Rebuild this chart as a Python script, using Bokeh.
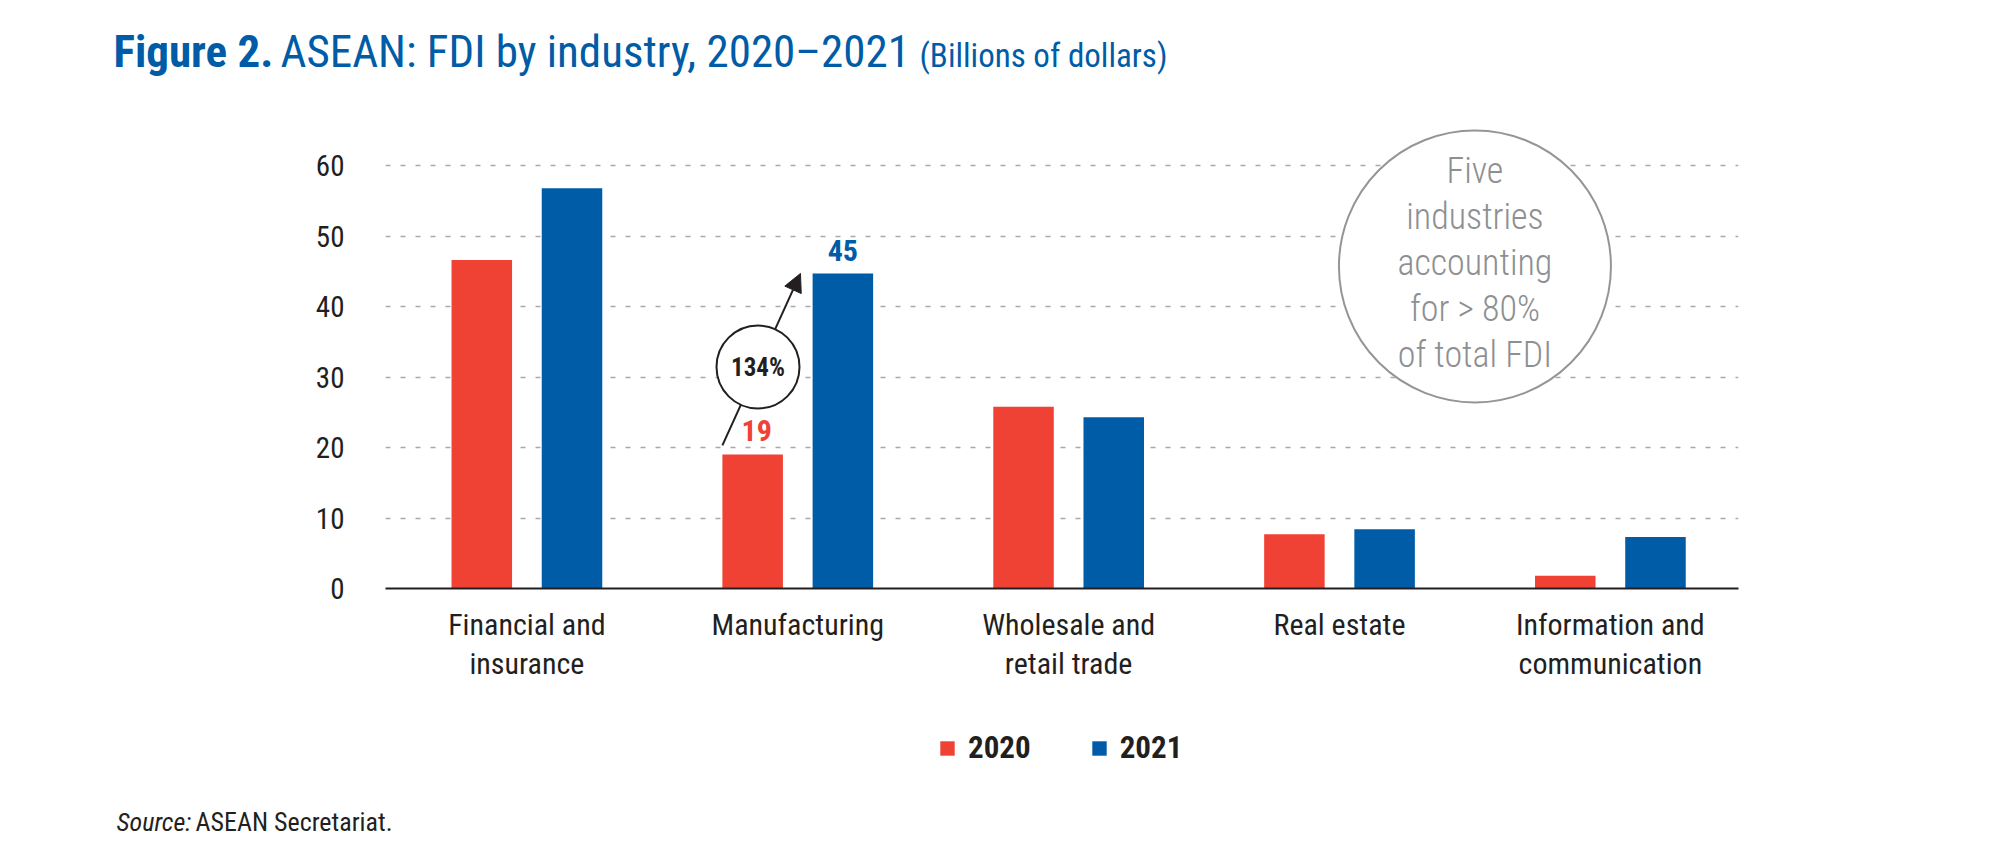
from bokeh.plotting import figure
from bokeh.layouts import column
from bokeh.models import (Range1d, FixedTicker, Arrow, NormalHead, Legend,
                          LegendItem, ColumnDataSource)
from bokeh.transform import dodge
from bokeh.core.properties import value
from bokeh.embed import file_html
from bokeh.resources import INLINE

# ---------------- data ----------------
industries = ["Financial and\ninsurance", "Manufacturing", "Wholesale and\nretail trade",
              "Real estate", "Information and\ncommunication"]
fdi_2020 = [46.6, 19.0, 25.8, 7.7, 1.8]
fdi_2021 = [56.8, 44.7, 24.3, 8.4, 7.3]
years = ["2020", "2021"]
y_ticks = [0, 10, 20, 30, 40, 50, 60]
growth_label = "134%"
note_lines = ["Five", "industries", "accounting", "for > 80%", "of total FDI"]
title_bold = "Figure 2."
title_main = "ASEAN: FDI by industry, 2020\u20132021"
title_unit = "(Billions of dollars)"
source_lead = "Source:"
source_text = "ASEAN Secretariat."

# ---------------- style ----------------
FONT = "'Roboto Condensed', 'Liberation Sans Narrow', 'DejaVu Sans Condensed', sans-serif"
FONT_LIGHT = "'Roboto Condensed Light', 'Roboto Condensed', sans-serif"
RED = "#EF4234"
BLUE = "#005CA6"
DARK = "#231F20"
GREY = "#939598"
GREY_TXT = "#8D8F92"
GRID = "#A7A9AC"
W = 2007


def no_align(f):
    try:
        f.frame_align = False
    except Exception:
        pass


def blank_fig(height):
    f = figure(width=W, height=height, x_range=Range1d(0, W), y_range=Range1d(height, 0),
               x_axis_location=None, y_axis_location=None, min_border=0,
               output_backend="svg", toolbar_location=None, outline_line_color=None)
    f.xgrid.visible = False
    f.ygrid.visible = False
    no_align(f)
    return f


# ---------------- title ----------------
TH = 108
ft = blank_fig(TH)
ft.text(x=[113], y=[51], text=[title_bold], text_font=value(FONT), text_font_size="45px",
        text_font_style="bold", text_color=BLUE, text_baseline="middle")
ft.text(x=[280], y=[51], text=[title_main], text_font=value(FONT), text_font_size="45px",
        text_color=BLUE, text_baseline="middle")
ft.text(x=[919], y=[55], text=[title_unit], text_font=value(FONT), text_font_size="33px",
        text_color=BLUE, text_baseline="middle")

# ---------------- main chart ----------------
idx = list(range(len(industries)))
off = 0.1665
bw = 0.2234

p = figure(frame_width=1353, frame_height=468,
           min_border_left=385, min_border_right=269,
           min_border_top=12, min_border_bottom=112,
           x_range=Range1d(-0.522, 4.473), y_range=Range1d(0, 66.4),
           output_backend="svg", toolbar_location=None,
           outline_line_color=None)
no_align(p)

src = ColumnDataSource(dict(x=idx, v20=fdi_2020, v21=fdi_2021))
r20 = p.vbar(x=dodge("x", -off), top="v20", width=bw, source=src,
             fill_color=RED, line_color=None)
r21 = p.vbar(x=dodge("x", off), top="v21", width=bw, source=src,
             fill_color=BLUE, line_color=None)

xa = p.xaxis[0]
xa.ticker = FixedTicker(ticks=idx)
xa.major_label_overrides = {i: name for i, name in zip(idx, industries)}
xa.major_tick_line_color = None
xa.minor_tick_line_color = None
xa.axis_line_color = DARK
xa.axis_line_width = 2
xa.major_label_text_font = FONT
xa.major_label_text_font_size = "30px"
xa.major_label_text_color = DARK
xa.major_label_text_line_height = 1.13
xa.major_label_standoff = 12

ya = p.yaxis[0]
ya.ticker = FixedTicker(ticks=y_ticks)
ya.axis_line_color = None
ya.major_tick_line_color = None
ya.minor_tick_line_color = None
ya.major_label_standoff = 35
ya.major_label_text_font = FONT
ya.major_label_text_font_size = "29px"
ya.major_label_text_color = DARK

p.xgrid.visible = False
p.ygrid.ticker = FixedTicker(ticks=y_ticks[1:])
p.ygrid.grid_line_color = GRID
p.ygrid.grid_line_dash = "5 10"
p.ygrid.grid_line_width = 1.6

# manufacturing highlight
mi = 1
x_red = mi - off
x_blue = mi + off
ax0, ay0 = x_red - bw / 2, fdi_2020[mi] + 1.3
ax1, ay1 = mi + 0.01, fdi_2021[mi]
arrow = Arrow(x_start=ax0, y_start=ay0, x_end=ax1, y_end=ay1,
              line_color=DARK, line_width=2,
              end=NormalHead(size=18, fill_color=DARK, line_color=DARK), level="underlay")
p.add_layout(arrow)
t = 0.456
cx, cy = ax0 + t * (ax1 - ax0), ay0 + t * (ay1 - ay0)
p.scatter(x=[cx], y=[cy], size=83, marker="circle", fill_color="white",
          line_color=DARK, line_width=2)
p.text(x=[cx], y=[cy], text=[growth_label], text_align="center", text_baseline="middle",
       text_font=value(FONT), text_font_size="25px", text_font_style="bold", text_color=DARK)

p.text(x=[x_red], y=[fdi_2020[mi]], text=[f"{fdi_2020[mi]:.0f}"], x_offset=4, y_offset=-24,
       text_align="center", text_baseline="middle", text_font=value(FONT),
       text_font_size="30px", text_font_style="bold", text_color=RED)
p.text(x=[x_blue], y=[fdi_2021[mi]], text=[f"{fdi_2021[mi]:.0f}"], y_offset=-22.5,
       text_align="center", text_baseline="middle", text_font=value(FONT),
       text_font_size="30px", text_font_style="bold", text_color=BLUE)

# note circle
p.scatter(x=[3.5], y=[45.7], size=272, marker="circle", fill_color="white",
          line_color=GREY, line_width=2)
n = len(note_lines)
p.text(x=[3.5] * n, y=[45.7] * n, text=note_lines,
       y_offset=[(i - (n - 1) / 2) * 46 - 3.5 for i in range(n)],
       text_align="center", text_baseline="middle", text_font=value(FONT_LIGHT),
       text_font_size="36px", text_color=GREY_TXT)

# ---------------- footer: legend + source ----------------
FH = 844 - TH - (12 + 468 + 112)
ff = blank_fig(FH)
# hidden copies of the series, used only to key the legend
l20 = ff.vbar(x=dodge("x", -off), top="v20", width=bw, source=src,
              fill_color=RED, line_color=None, visible=False)
l21 = ff.vbar(x=dodge("x", off), top="v21", width=bw, source=src,
              fill_color=BLUE, line_color=None, visible=False)
legend = Legend(items=[LegendItem(label=years[0], renderers=[l20]),
                       LegendItem(label=years[1], renderers=[l21])],
                orientation="horizontal", location=(938, 78),
                glyph_width=18, glyph_height=18, label_standoff=12, spacing=59,
                padding=0, margin=0, border_line_color=None, background_fill_alpha=0,
                inactive_fill_alpha=0,
                label_text_font=FONT, label_text_font_size="31px",
                label_text_font_style="bold", label_text_color=DARK)
ff.add_layout(legend)
sy = 821.7 - (844 - FH)
ff.text(x=[116], y=[sy], text=[source_lead], text_font=value(FONT), text_font_size="26px",
        text_font_style="italic", text_color=DARK, text_baseline="middle")
ff.text(x=[195], y=[sy], text=[source_text], text_font=value(FONT), text_font_size="26px",
        text_color=DARK, text_baseline="middle")

layout = column(ft, p, ff, spacing=0)
open("out.html", "w").write(file_html(layout, INLINE))
